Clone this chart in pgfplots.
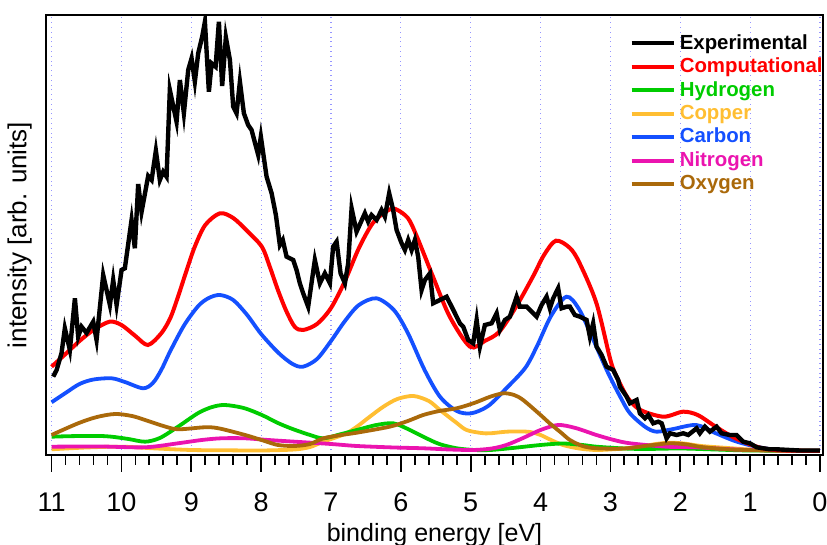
\documentclass[border=0pt]{standalone}
\usepackage{fontspec}
\setmainfont{Liberation Sans}
\usepackage{pgfplots}
\pgfplotsset{compat=1.18}

\definecolor{cexp}{RGB}{0,0,0}
\definecolor{ccomp}{RGB}{255,0,0}
\definecolor{chyd}{RGB}{0,204,0}
\definecolor{ccop}{RGB}{255,190,50}
\definecolor{ccarb}{RGB}{20,80,255}
\definecolor{cnit}{RGB}{235,20,175}
\definecolor{coxy}{RGB}{170,105,10}
\definecolor{cgrid}{RGB}{150,150,255}

\begin{document}
\begin{tikzpicture}
\useasboundingbox (-23pt,-45pt) rectangle (390.5pt,227.5pt);
\begin{axis}[
    width=388.5pt, height=220pt, scale only axis,
    x dir=reverse,
    xmin=-0.043, xmax=11.08,
    ymin=-4, ymax=436,
    xtick={0,1,...,11},
    minor x tick num=4,
    ytick=\empty,
    xtick pos=bottom,
    tick align=outside,
    major tick length=8.5pt, minor tick length=5pt,
    every tick/.style={black, line width=0.9pt},
    axis line style={line width=1.3pt},
    xmajorgrids=true,
    grid style={cgrid, dotted, line width=0.6pt},
    /pgf/number format/assume math mode=true,
    xticklabel style={font=\fontsize{13.5}{15}\selectfont, yshift=-7pt},
    xlabel={binding energy [eV]},
    ylabel={intensity [arb. units]},
    xlabel style={font=\fontsize{12.5}{14}\selectfont, at={(axis description cs:0.5,-0.182)}, anchor=center},
    ylabel style={font=\fontsize{13}{14}\selectfont, at={(axis description cs:-0.034,0.5)}, anchor=center},
    legend style={at={(rel axis cs:0.743,0.975)}, anchor=north west, draw=none, fill=none,
        font=\fontsize{10.2}{12}\selectfont\bfseries, row sep=-1.1pt,
        /tikz/every even column/.append style={column sep=2pt}},
    legend cell align=left,
    legend image code/.code={\draw[#1, line width=2pt] (0cm,0cm) -- (0.74cm,0cm);},
    clip=true,
]
\addlegendimage{cexp}\addlegendentry{\textcolor{cexp}{Experimental}}
\addlegendimage{ccomp}\addlegendentry{\textcolor{ccomp}{Computational}}
\addlegendimage{chyd}\addlegendentry{\textcolor{chyd}{Hydrogen}}
\addlegendimage{ccop}\addlegendentry{\textcolor{ccop}{Copper}}
\addlegendimage{ccarb}\addlegendentry{\textcolor{ccarb}{Carbon}}
\addlegendimage{cnit}\addlegendentry{\textcolor{cnit}{Nitrogen}}
\addlegendimage{coxy}\addlegendentry{\textcolor{coxy}{Oxygen}}

% Copper
\addplot[ccop, line width=1.9pt, smooth, forget plot] coordinates {
(11.0,1.7) (10.5,3.5) (10.0,4.3) (9.5,2.5) (9.0,1) (8.5,0.7) (8.0,0.5) (7.52,1.5) (7.3,4) (7.11,9.3)
(6.8,17) (6.63,24.3) (6.45,34) (6.25,44.3) (6.05,52) (5.82,55) (5.6,50) (5.44,41) (5.2,28)
(5.06,21) (4.85,18) (4.72,17.7) (4.49,19.3) (4.3,19.5) (4.15,19) (4.0,16) (3.85,11) (3.68,6) (3.45,2.5) (3.2,1)
(2.9,2) (2.6,4) (2.35,7) (2.15,8.3) (1.95,7.5) (1.7,5) (1.32,3) (0.9,1) (0.5,0.5) (0.0,0.3)};
% Hydrogen
\addplot[chyd, line width=1.9pt, smooth, forget plot] coordinates {
(11.0,14.3) (10.75,14.8) (10.52,15) (10.3,15) (10.14,14.3) (9.9,12) (9.66,9.3) (9.45,13) (9.19,24.3)
(8.9,38) (8.7,44) (8.52,46) (8.25,43) (7.99,36) (7.76,28) (7.55,22) (7.3,16) (7.11,12.7)
(6.85,17) (6.63,21) (6.35,26) (6.11,27.7) (5.9,22) (5.68,14.3) (5.45,7) (5.2,2.7) (4.95,1) (4.72,1)
(4.4,3) (4.0,6) (3.68,7.5) (3.4,6) (3.2,4.3) (2.8,2.5) (2.5,2) (2.0,2.5) (1.5,1.5) (1.0,0.5) (0.0,0.2)};
% Carbon
\addplot[ccarb, line width=1.9pt, smooth, forget plot] coordinates {
(11.0,48.7) (10.8,58) (10.6,67) (10.4,71.5) (10.14,72.7) (9.95,69) (9.69,62.7) (9.55,68) (9.43,81)
(9.3,100) (9.1,126) (8.9,145) (8.75,153) (8.59,156) (8.4,151) (8.2,136) (8.0,117) (7.75,98)
(7.55,87) (7.4,84.3) (7.2,92) (7.0,110) (6.8,130) (6.6,146) (6.35,152.7) (6.1,141) (5.9,118)
(5.66,81) (5.44,54.3) (5.2,40) (4.99,37.7) (4.75,45) (4.5,62) (4.22,83) (4.05,105) (3.85,135)
(3.63,154.3) (3.45,142) (3.25,112) (3.04,79) (2.85,53) (2.72,37.7) (2.5,24) (2.34,19.3)
(2.1,22) (1.77,26) (1.5,18) (1.19,9.3) (0.82,3) (0.5,0.5) (0.0,0.2)};
% Nitrogen
\addplot[cnit, line width=1.9pt, smooth, forget plot] coordinates {
(11.0,4.3) (10.3,4.5) (9.66,3.7) (9.19,7.7) (8.85,11) (8.57,12.7) (8.23,12.7) (7.9,11) (7.52,9.3)
(7.0,7) (6.63,5) (6.1,3.5) (5.68,2.7) (5.3,1.5) (4.96,1) (4.7,2.5) (4.49,6) (4.25,13) (4.0,21)
(3.75,26) (3.5,23) (3.2,16) (2.95,11) (2.72,7.7) (2.2,4.3) (1.77,3.7) (1.2,1.5) (0.5,0.5) (0.0,0.2)};
% Oxygen
\addplot[coxy, line width=1.9pt, smooth, forget plot] coordinates {
(11.0,16) (10.62,27.7) (10.35,34) (10.09,37) (9.85,35) (9.66,31) (9.4,25) (9.19,21.7) (8.81,23.7)
(8.61,22.7) (8.23,16) (7.95,10) (7.76,6) (7.52,5) (7.3,7) (7.11,12.7) (6.85,16) (6.63,18.3)
(6.16,24.3) (5.9,30) (5.68,36) (5.45,40) (5.2,42.7) (4.95,48) (4.72,54.3) (4.53,57.7) (4.38,56)
(4.25,51) (4.0,36) (3.87,27.7) (3.7,18) (3.58,11) (3.4,5) (3.2,2.7) (2.8,2.5) (2.45,5.5) (2.15,7.7)
(1.9,6.5) (1.7,4) (1.32,1.7) (0.9,0.7) (0.5,0.3) (0.0,0.3)};
% Computational
\addplot[ccomp, line width=2pt, smooth, forget plot] coordinates {
(11.0,84.3) (10.8,97) (10.6,110) (10.4,121) (10.17,129.3) (10.0,126) (9.8,115) (9.62,106)
(9.43,117.7) (9.3,133) (9.19,154.3) (9.07,180) (8.95,204.3) (8.8,226) (8.59,237.7) (8.4,233)
(8.2,220) (7.99,204.3) (7.88,185) (7.76,161) (7.64,140) (7.52,124.3) (7.4,121) (7.2,127)
(7.0,143) (6.8,170) (6.6,203) (6.4,228) (6.2,240) (6.08,242) (5.9,233) (5.77,214.3) (5.54,174.3)
(5.3,134.3) (5.01,104.3) (4.8,110) (4.59,119.3) (4.35,144.3) (4.11,174.3) (3.95,196)
(3.78,210.3) (3.58,203) (3.44,187.7) (3.2,147.7) (3.0,91) (2.91,74.3) (2.75,53) (2.57,41)
(2.24,34.3) (1.96,39.3) (1.75,36) (1.53,26) (1.3,16) (1.1,9.3) (0.82,2.7) (0.5,0.5) (0.0,0.2)};
% Experimental
\addplot[cexp, line width=2.2pt, forget plot] coordinates {
(10.977,74.3) (10.928,81) (10.857,98) (10.810,122.7) (10.738,101) (10.666,152.7) (10.619,114.3)
(10.571,124.3) (10.499,118) (10.404,129.3) (10.356,111) (10.261,176) (10.165,146) (10.118,171)
(10.069,146) (9.998,181) (9.951,182.7) (9.855,231) (9.808,202.7) (9.760,267) (9.712,239)
(9.617,275) (9.568,271) (9.507,300.3) (9.450,271) (9.402,279.3) (9.354,274.3) (9.307,361)
(9.211,329.3) (9.163,371) (9.106,337.7) (9.044,381) (8.996,392.7) (8.949,369.3) (8.901,397.7)
(8.844,414.3) (8.805,429.3) (8.748,359.3) (8.709,387.7) (8.652,384.3) (8.605,429.3) (8.558,365)
(8.505,413.7) (8.447,391) (8.400,344.3) (8.352,337.7) (8.304,369.3) (8.247,337.7) (8.186,326)
(8.137,321) (8.042,296) (8.004,314.3) (7.922,274.3) (7.850,257.7) (7.789,236) (7.732,206)
(7.69,211) (7.636,194.3) (7.541,191) (7.493,181) (7.446,167.7) (7.398,157.7) (7.327,144.3)
(7.231,191) (7.159,167.7) (7.088,177.7) (7.016,167.7) (6.969,204.3) (6.920,209.3) (6.863,177.7)
(6.801,167.7) (6.754,187.7) (6.705,242.7) (6.634,219.3) (6.515,237.7) (6.468,229.3) (6.419,236)
(6.347,231) (6.276,241) (6.229,234.3) (6.167,257.7) (6.110,241) (6.061,221) (5.989,207.7)
(5.942,201) (5.895,211) (5.846,201) (5.799,211) (5.752,194.3) (5.703,161) (5.656,171)
(5.584,177.7) (5.537,147.7) (5.441,151) (5.345,154.3) (5.249,141) (5.155,127.7) (5.107,124.3)
(5.036,111) (4.964,107.7) (4.915,131) (4.868,104.3) (4.797,126) (4.701,127.7) (4.629,137.7)
(4.582,121) (4.511,131) (4.439,134.3) (4.343,154.3) (4.296,144.3) (4.200,144.3) (4.105,137.7)
(4.057,134.3) (3.985,146) (3.914,154.3) (3.867,142.7) (3.819,152.7) (3.748,162.7) (3.699,142.7)
(3.627,144.3) (3.580,144.3) (3.509,136) (3.437,134.3) (3.341,131) (3.294,114.3) (3.247,127.7)
(3.198,104.3) (3.126,96) (3.055,84.3) (2.960,81) (2.889,71) (2.864,64.3) (2.768,54.3)
(2.721,47.7) (2.625,51) (2.578,37.7) (2.506,32.7) (2.459,36) (2.387,27.7) (2.316,29.3)
(2.267,27.7) (2.196,12.7) (2.148,17.7) (2.052,16) (1.958,17.7) (1.886,16) (1.766,22.7)
(1.719,17.7) (1.648,24.3) (1.576,19.3) (1.480,24.3) (1.409,17.7) (1.290,16) (1.194,16)
(1.099,9.3) (1.003,7.7) (0.907,3.7) (0.813,2.7) (0.717,1.7) (0.621,1.7) (0.43,1) (0.29,0.5) (0.0,0.5)};
\end{axis}
\end{tikzpicture}
\end{document}
